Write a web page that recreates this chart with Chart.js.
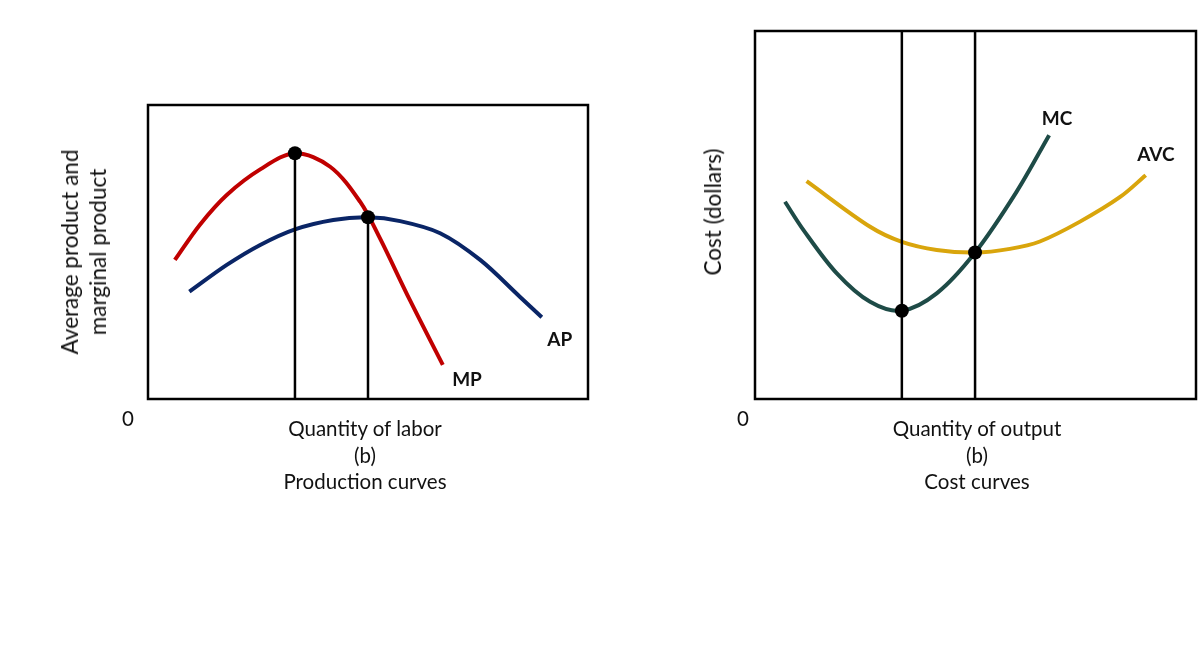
<!DOCTYPE html>
<html>
<head>
<meta charset="utf-8">
<script src="https://cdn.jsdelivr.net/npm/chart.js@4.4.1/dist/chart.umd.min.js"></script>
<style>
  body { margin: 0; background: #fff; width: 1198px; height: 654px; overflow: hidden; position: relative; font-family: Lato, "Open Sans", sans-serif; color: #111; }
  canvas { position: absolute; top: 0; }
  .txt { position: absolute; transform: translate(-50%, -50%); white-space: nowrap; font-size: 20.5px; line-height: 26.5px; text-align: center; }
  .rot { transform: translate(-50%, -50%) rotate(-90deg); font-size: 22.5px; line-height: 28px; }
  .lbl { position: absolute; transform: translate(-50%, -50%); font-weight: bold; font-size: 19px; white-space: nowrap; }
</style>
</head>
<body>
<canvas id="prod" width="600" height="654" style="left:0px"></canvas>
<canvas id="cost" width="598" height="654" style="left:600px"></canvas>

<div class="txt rot" style="left:84px; top:252px">Average product and<br>marginal product</div>
<div class="txt" style="left:128px; top:418px">0</div>
<div class="txt" style="left:365px; top:455px">Quantity of labor<br>(b)<br>Production curves</div>

<div class="txt rot" style="left:713px; top:212px">Cost (dollars)</div>
<div class="txt" style="left:743px; top:418px">0</div>
<div class="txt" style="left:977px; top:455px">Quantity of output<br>(b)<br>Cost curves</div>

<script>
// production curves (labor units on x, product on y, both 0-100)
const mpX = [6.1, 11.8, 17.9, 25.5, 33.4, 41.4, 48.2, 52.7, 59.5, 67.0];
const mpY = [47.3, 59.3, 69.4, 78.1, 83.6, 79.0, 67.1, 54.7, 33.7, 11.6];
const apX = [9.4, 17.9, 25.5, 33.4, 42.1, 50, 57.3, 66.4, 75.5, 84.5, 89.5];
const apY = [36.5, 45.6, 52.4, 57.7, 60.9, 61.8, 60.5, 56.4, 47.3, 34.8, 27.8];
const prodDotsX = [33.4, 50];
const prodDotsY = [83.6, 61.8];

// cost curves (output on x, dollars on y, both 0-100)
const mcX = [6.8, 11.0, 18.5, 26.1, 33.3, 41.2, 49.9, 59.3, 66.7];
const mcY = [53.6, 45.9, 34.2, 26.4, 24.0, 28.7, 39.8, 56.3, 71.7];
const avcX = [11.7, 26.1, 33.3, 41.2, 49.9, 57.8, 64.6, 73.7, 82.8, 88.6];
const avcY = [59.2, 46.8, 42.7, 40.5, 39.8, 40.8, 42.8, 48.2, 54.9, 60.8];
const costDotsX = [33.3, 49.9];
const costDotsY = [24.0, 39.8];

// curve name labels, placed in data units
const prodLabels = [{ text: 'MP', x: 72.5, y: 7.1 }, { text: 'AP', x: 93.6, y: 20.7 }];
const costLabels = [{ text: 'MC', x: 68.5, y: 76.6 }, { text: 'AVC', x: 90.9, y: 66.8 }];

function pts(xs, ys) {
    return xs.map((x, i) => ({ x: x, y: ys[i] }));
}

// draws the frame round the plot area
const framePlugin = {
    id: 'frame',
    afterDraw(chart) {
        const a = chart.chartArea;
        const ctx = chart.ctx;
        ctx.save();
        ctx.strokeStyle = '#000';
        ctx.lineWidth = 2.5;
        ctx.strokeRect(a.left, a.top, a.right - a.left, a.bottom - a.top);
        ctx.restore();
    }
};

function curve(data, color) {
    return {
        data: data,
        borderColor: color,
        borderWidth: 4,
        pointRadius: 0,
        tension: 0.33,
        fill: false
    };
}

function vline(x, top) {
    return {
        data: [{ x: x, y: 0 }, { x: x, y: top }],
        borderColor: '#000',
        borderWidth: 2.5,
        pointRadius: 0,
        tension: 0
    };
}

function makeChart(id, padding, datasets, labels, leftOffset) {
    const chart = new Chart(document.getElementById(id), {
        type: 'line',
        data: { datasets: datasets },
        options: {
            responsive: false,
            animation: false,
            layout: { padding: padding, autoPadding: false },
            plugins: { legend: { display: false }, tooltip: { enabled: false } },
            scales: {
                x: { type: 'linear', min: 0, max: 100, display: false },
                y: { type: 'linear', min: 0, max: 100, display: false }
            }
        },
        plugins: [framePlugin]
    });
    labels.forEach(l => {
        const div = document.createElement('div');
        div.className = 'lbl';
        div.textContent = l.text;
        div.style.left = (leftOffset + chart.scales.x.getPixelForValue(l.x)) + 'px';
        div.style.top = chart.scales.y.getPixelForValue(l.y) + 'px';
        document.body.appendChild(div);
    });
}

makeChart('prod', { left: 148, top: 105, right: 12, bottom: 255 }, [
    { type: 'scatter', data: pts(prodDotsX, prodDotsY), pointRadius: 7, pointBackgroundColor: '#000', pointBorderWidth: 0 },
    vline(prodDotsX[0], prodDotsY[0]),
    vline(prodDotsX[1], prodDotsY[1]),
    curve(pts(mpX, mpY), '#C00000'),
    curve(pts(apX, apY), '#0A2566')
], prodLabels, 0);

makeChart('cost', { left: 155, top: 31, right: 2, bottom: 255 }, [
    { type: 'scatter', data: pts(costDotsX, costDotsY), pointRadius: 7, pointBackgroundColor: '#000', pointBorderWidth: 0 },
    vline(costDotsX[0], 100),
    vline(costDotsX[1], 100),
    curve(pts(mcX, mcY), '#1E4B47'),
    curve(pts(avcX, avcY), '#D9A50C')
], costLabels, 600);
</script>
</body>
</html>
